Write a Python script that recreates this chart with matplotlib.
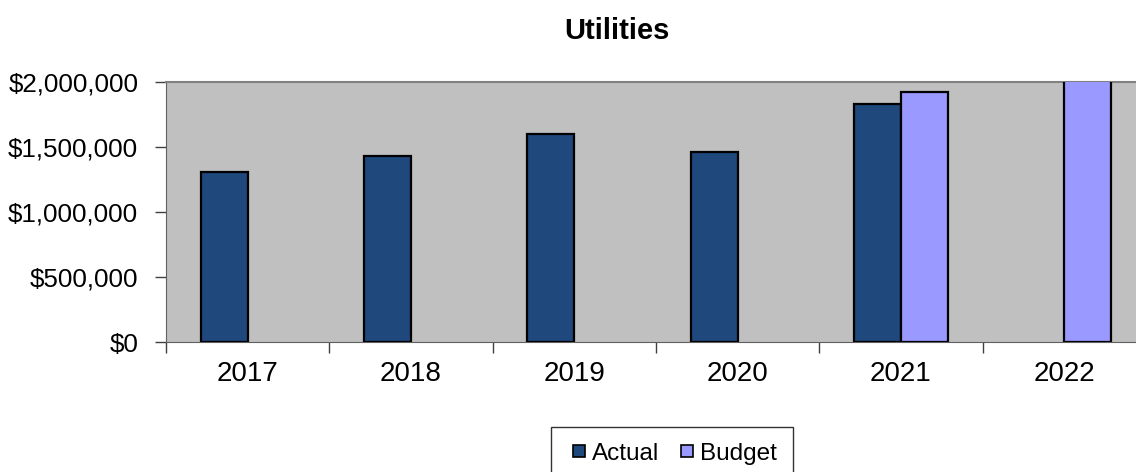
import matplotlib
matplotlib.use("Agg")
import matplotlib.pyplot as plt
import numpy as np
from matplotlib.lines import Line2D
from matplotlib.ticker import FuncFormatter, FixedLocator

plt.rcParams["font.family"] = ["Liberation Sans", "DejaVu Sans"]

years = ["2017", "2018", "2019", "2020", "2021", "2022"]
actual = [1305000, 1431000, 1600000, 1459000, 1831000, np.nan]
budget = [np.nan, np.nan, np.nan, np.nan, 1923000, 2100000]

ACTUAL_COLOR = "#1F497D"
BUDGET_COLOR = "#9999FF"
PLOT_BG = "#C0C0C0"

fig = plt.figure(figsize=(11.36, 4.72), dpi=100)
ax = fig.add_axes([0.1461, 0.2754, 0.8627, 0.5508])
ax.set_facecolor(PLOT_BG)

x = np.arange(len(years))
w = 0.288
ax.bar(x - w / 2, actual, width=w, color=ACTUAL_COLOR, edgecolor="black",
       linewidth=1.6, label="Actual", zorder=3)
ax.bar(x + w / 2, budget, width=w, color=BUDGET_COLOR, edgecolor="black",
       linewidth=1.6, label="Budget", zorder=3)

ax.set_xlim(-0.5, len(years) - 0.5)
ax.set_ylim(0, 2000000)
ax.set_yticks(np.arange(0, 2000001, 500000))
ax.yaxis.set_major_formatter(FuncFormatter(lambda v, _: f"${v:,.0f}"))

# category boundaries get the tick marks, labels sit in the middle
ax.xaxis.set_major_locator(FixedLocator(np.arange(-0.5, len(years), 1.0)))
ax.xaxis.set_minor_locator(FixedLocator(x))
ax.set_xticklabels([], minor=False)
ax.set_xticklabels(years, minor=True)
ax.tick_params(axis="x", which="major", length=8, width=1, color="#404040", direction="out")
ax.tick_params(axis="x", which="minor", length=0, pad=14, labelsize=20)
ax.tick_params(axis="y", length=8, width=1, color="#404040", direction="out",
               pad=12, labelsize=18.7)

for side in ("top", "right"):
    ax.spines[side].set_color("#808080")
    ax.spines[side].set_linewidth(1.5)
ax.spines["left"].set_color("#606060")
ax.spines["bottom"].set_color("#606060")

fig.text(0.543, 0.935, "Utilities", ha="center", va="center",
         fontsize=21, fontweight="bold")

handles = [
    Line2D([], [], linestyle="none", marker="s", markersize=8.6,
           markerfacecolor=ACTUAL_COLOR, markeredgecolor="black", markeredgewidth=1.2),
    Line2D([], [], linestyle="none", marker="s", markersize=8.6,
           markerfacecolor=BUDGET_COLOR, markeredgecolor="black", markeredgewidth=1.2),
]
leg = fig.legend(handles, ["Actual", "Budget"], loc="upper left",
                 bbox_to_anchor=(0.485, 0.0953), ncol=2,
                 fontsize=17.5, frameon=True, fancybox=False, shadow=False,
                 handlelength=1.0, handletextpad=0.05,
                 columnspacing=0.62, borderpad=0.65, borderaxespad=0)
leg.get_frame().set_edgecolor("black")
leg.get_frame().set_linewidth(1.0)

fig.savefig("out.png", dpi=100, facecolor="white")
